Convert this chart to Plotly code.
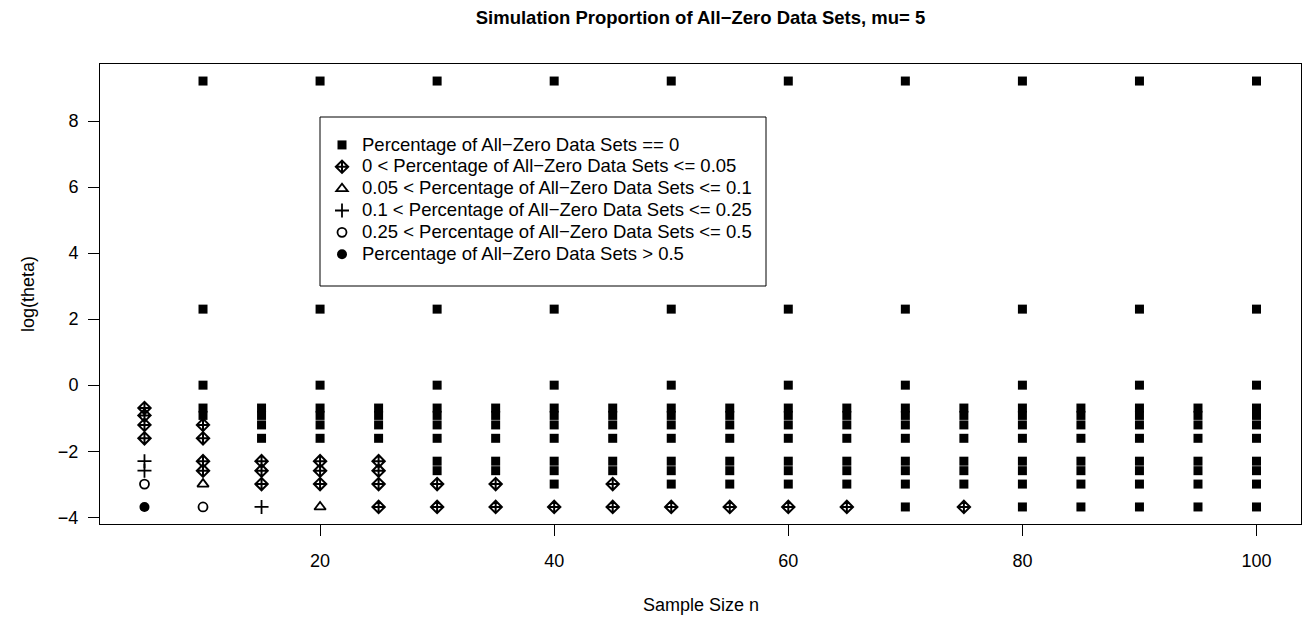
import math
import plotly.graph_objects as go

# ---------------- data ----------------
sample_sizes = [5, 10, 15, 20, 25, 30, 35, 40, 45, 50,
                55, 60, 65, 70, 75, 80, 85, 90, 95, 100]
theta_odd = [0.025, 0.05, 0.075, 0.1, 0.2, 0.3, 0.4, 0.5]
theta_even = [0.025, 0.05, 0.075, 0.1, 0.2, 0.3, 0.4, 0.5, 1, 10, 10000]

# category code per (n, theta), theta in ascending order
# 0: ==0, 1: (0,0.05], 2: (0.05,0.1], 3: (0.1,0.25], 4: (0.25,0.5], 5: >0.5
codes = {
    5:   [5, 4, 3, 3, 1, 1, 1, 1],
    10:  [4, 2, 1, 1, 1, 1, 0, 0, 0, 0, 0],
    15:  [3, 1, 1, 1, 0, 0, 0, 0],
    20:  [2, 1, 1, 1, 0, 0, 0, 0, 0, 0, 0],
    25:  [1, 1, 1, 1, 0, 0, 0, 0],
    30:  [1, 1, 0, 0, 0, 0, 0, 0, 0, 0, 0],
    35:  [1, 1, 0, 0, 0, 0, 0, 0],
    40:  [1, 0, 0, 0, 0, 0, 0, 0, 0, 0, 0],
    45:  [1, 1, 0, 0, 0, 0, 0, 0],
    50:  [1, 0, 0, 0, 0, 0, 0, 0, 0, 0, 0],
    55:  [1, 0, 0, 0, 0, 0, 0, 0],
    60:  [1, 0, 0, 0, 0, 0, 0, 0, 0, 0, 0],
    65:  [1, 0, 0, 0, 0, 0, 0, 0],
    70:  [0, 0, 0, 0, 0, 0, 0, 0, 0, 0, 0],
    75:  [1, 0, 0, 0, 0, 0, 0, 0],
    80:  [0, 0, 0, 0, 0, 0, 0, 0, 0, 0, 0],
    85:  [0, 0, 0, 0, 0, 0, 0, 0],
    90:  [0, 0, 0, 0, 0, 0, 0, 0, 0, 0, 0],
    95:  [0, 0, 0, 0, 0, 0, 0, 0],
    100: [0, 0, 0, 0, 0, 0, 0, 0, 0, 0, 0],
}

labels = [
    "Percentage of All\u2212Zero Data Sets == 0",
    "0 < Percentage of All\u2212Zero Data Sets <= 0.05",
    "0.05 < Percentage of All\u2212Zero Data Sets <= 0.1",
    "0.1 < Percentage of All\u2212Zero Data Sets <= 0.25",
    "0.25 < Percentage of All\u2212Zero Data Sets <= 0.5",
    "Percentage of All\u2212Zero Data Sets > 0.5",
]

x_ticks = [20, 40, 60, 80, 100]
y_ticks = [-4, -2, 0, 2, 4, 6, 8]

# ---------------- styles ----------------
symbols = ["square", "diamond-cross-open", "triangle-up-open",
           "cross-thin-open", "circle-open", "circle"]
sizes = [9, 9.5, 10, 10, 9, 10]
lwidths = [0, 2, 1.8, 1.8, 1.8, 0]
FONT = "Liberation Sans, Arial, Helvetica, sans-serif"
FS = 18

xs = [[] for _ in labels]
ys = [[] for _ in labels]
for n in sample_sizes:
    thetas = theta_even if n % 10 == 0 else theta_odd
    for t, c in zip(thetas, codes[n]):
        xs[c].append(n)
        ys[c].append(math.log(t))

fig = go.Figure()
for k, lab in enumerate(labels):
    fig.add_trace(go.Scatter(
        x=xs[k], y=ys[k], mode="markers",
        name='<span style="font-size:18.5px">' + lab + '</span>',
        marker=dict(symbol=symbols[k], size=sizes[k], color="black",
                    line=dict(color="black", width=lwidths[k])),
    ))

all_y = [math.log(t) for t in theta_even]
ylo, yhi = min(all_y), max(all_y)
xlo, xhi = min(sample_sizes), max(sample_sizes)
px_ = 0.04 * (xhi - xlo)
py_ = 0.04 * (yhi - ylo)

axis_common = dict(
    showgrid=False, zeroline=False, showline=True, mirror=True,
    linecolor="black", linewidth=1, ticks="outside", ticklen=11,
    tickwidth=1, tickcolor="black",
    tickfont=dict(family=FONT, size=FS, color="black"),
)

fig.update_layout(
    width=1307, height=620,
    margin=dict(l=100, r=6, t=64, b=96),
    paper_bgcolor="white", plot_bgcolor="white",
    font=dict(family=FONT, size=FS, color="black"),
    title=dict(text="<b>Simulation Proportion of All\u2212Zero Data Sets, mu= 5</b>",
               x=0.5, xref="paper", xanchor="center",
               y=1 - 18 / 620, yref="container", yanchor="middle",
               font=dict(family=FONT, size=18.5, color="black")),
    xaxis=dict(range=[xlo - px_, xhi + px_], tickvals=x_ticks,
               ticklabelstandoff=9, **axis_common),
    yaxis=dict(range=[ylo - py_, yhi + py_], tickvals=y_ticks,
               ticklabelstandoff=6, **axis_common),
    legend=dict(x=(322 - 100) / 1201, y=(524 - 129) / 460,
                xanchor="left", yanchor="top",
                bgcolor="rgba(0,0,0,0)", borderwidth=0,
                font=dict(family=FONT, size=14.5, color="black")),
    shapes=[dict(type="rect", xref="paper", yref="paper",
                 x0=(320 - 100) / 1201, x1=(766 - 100) / 1201,
                 y0=(524 - 286) / 460, y1=(524 - 117) / 460,
                 line=dict(color="black", width=1), fillcolor="white",
                 layer="below")],
    annotations=[
        dict(text="Sample Size n", xref="paper", yref="paper", x=0.5, y=0,
             xanchor="center", yanchor="middle", yshift=-81, showarrow=False,
             font=dict(family=FONT, size=FS, color="black")),
        dict(text="log(theta)", xref="paper", yref="paper", x=0, y=0.5,
             xanchor="center", yanchor="middle", xshift=-72, textangle=-90,
             showarrow=False, font=dict(family=FONT, size=FS, color="black")),
    ],
)

fig.write_html("out.html", config={"displayModeBar": False},
               post_script="document.body.style.margin='0';"
                           "document.documentElement.style.overflow='hidden';")
